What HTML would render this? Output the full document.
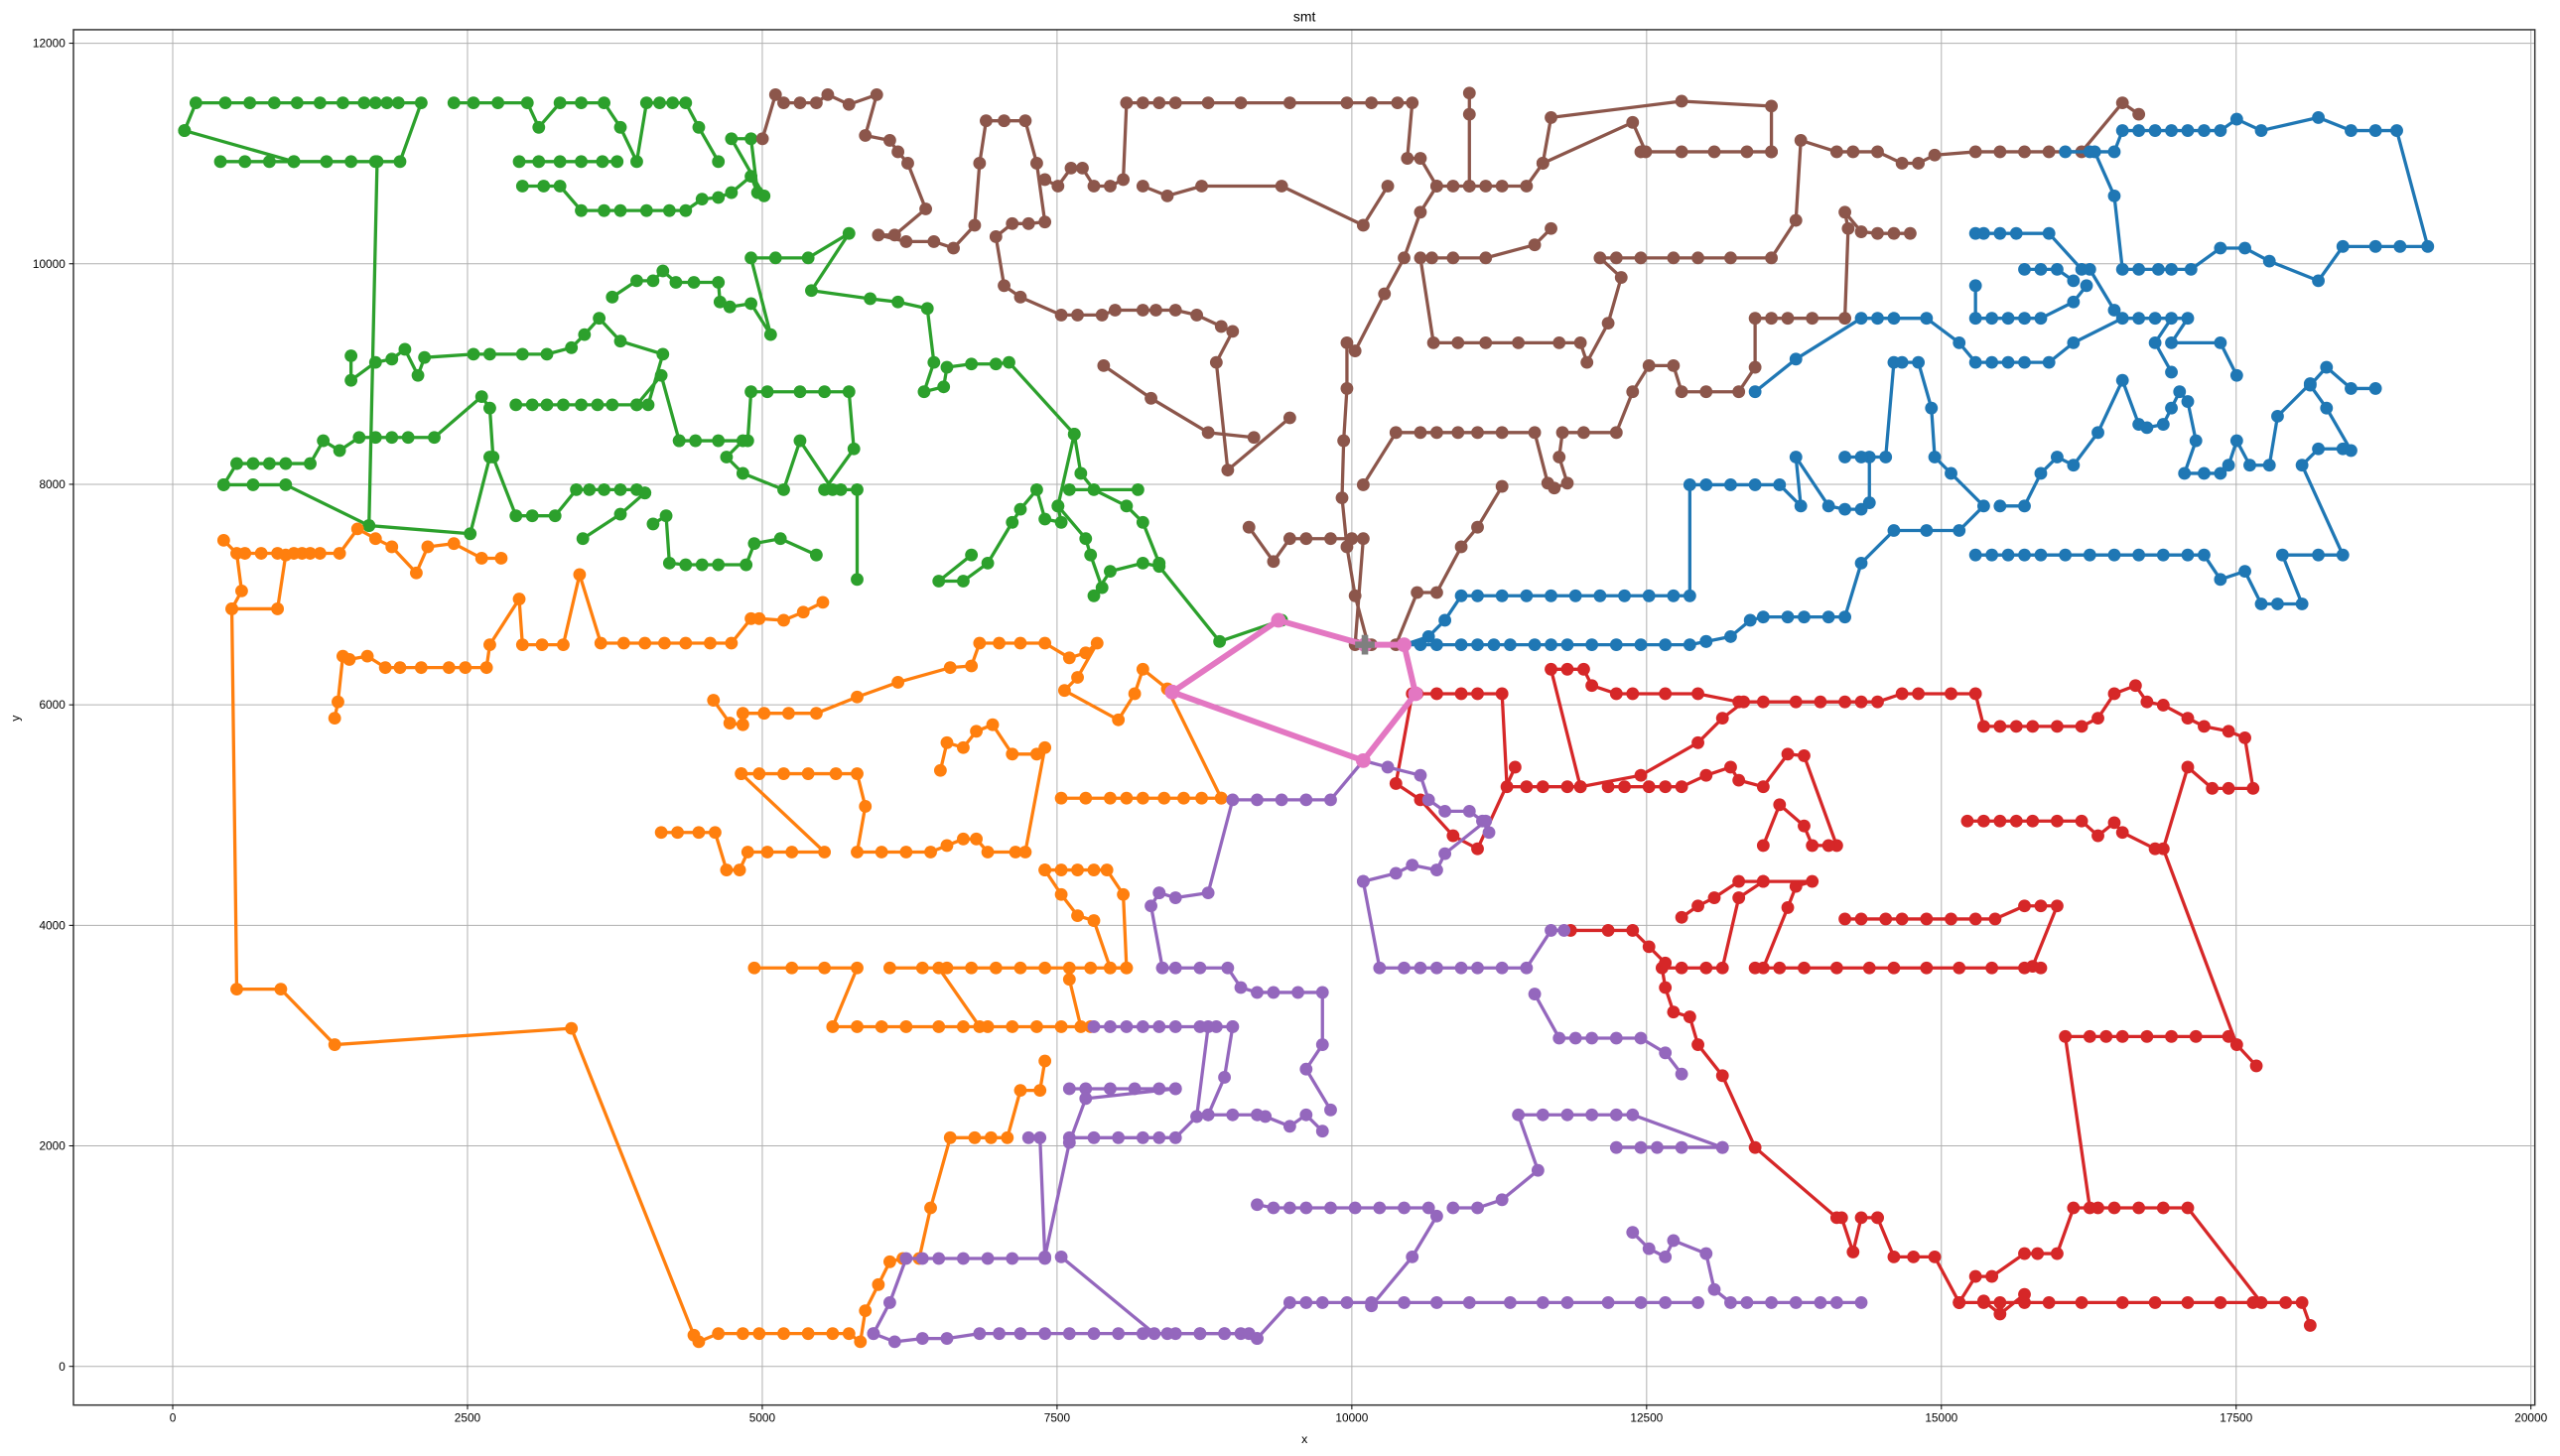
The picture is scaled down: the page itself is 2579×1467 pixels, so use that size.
<!DOCTYPE html>
<html><head><meta charset="utf-8"><style>
html,body{margin:0;padding:0;background:#fff;}
svg{display:block;}
text{font-family:"Liberation Sans",sans-serif;fill:#000;}
</style></head><body>
<svg id="s" width="2579" height="1467" viewBox="0 0 1568 892" preserveAspectRatio="none" xmlns="http://www.w3.org/2000/svg">
<rect x="0" y="0" width="1568" height="892" fill="#fff"/>
<g id="grid" stroke="#b0b0b0" stroke-width="0.6"></g>
<g id="data" stroke-linejoin="round" stroke-linecap="round"></g>
<rect x="45" y="18.2" width="1507.6" height="842.6" fill="none" stroke="#333" stroke-width="0.9"/>
<g id="ticks" font-size="7.2"></g>
<text x="799" y="13" font-size="8.5" text-anchor="middle">smt</text>
<text x="799" y="884" font-size="7.5" text-anchor="middle">x</text>
<text x="12" y="440" font-size="7.5" text-anchor="middle" transform="rotate(-90 12 440)">y</text>
</svg>
<script>
var NS="http://www.w3.org/2000/svg";
function el(t,a,p){var e=document.createElementNS(NS,t);for(var k in a)e.setAttribute(k,a[k]);p.appendChild(e);return e;}
var grid=document.getElementById('grid'),ticks=document.getElementById('ticks'),data=document.getElementById('data');
for(var i=0;i<=8;i++){var x=105.8+i*180.55;el('line',{x1:x,y1:18.2,x2:x,y2:860.8},grid);el('line',{x1:x,y1:860.8,x2:x,y2:863.5,stroke:'#000','stroke-width':0.6},ticks);var t=el('text',{x:x,y:871,'text-anchor':'middle'},ticks);t.textContent=String(i*2500);}
for(var j=0;j<=6;j++){var y=837.1-j*135.1;el('line',{x1:45,y1:y,x2:1552.6,y2:y},grid);el('line',{x1:42.3,y1:y,x2:45,y2:y,stroke:'#000','stroke-width':0.6},ticks);var t2=el('text',{x:40,y:y+2.5,'text-anchor':'end'},ticks);t2.textContent=String(j*2000);}
var S={
'#2ca02c':[
"113,80 120,63 138,63 153,63 168,63 182,63 196,63 210,63 223,63 230,63 237,63 244,63 258,63 245,99 230,99 215,99 200,99 180,99 113,80",
"180,99 165,99 150,99 135,99",
"231,99 226,322 288,327 300,280",
"278,63 290,63 305,63 323,63 330,78 343,63 356,63 370,63 380,78 390,99 396,63 404,63 412,63 420,63 428,78 440,99",
"318,99 330,99 343,99 356,99 369,99 378,99",
"320,114 333,114 343,114 356,129 370,129 380,129 396,129 410,129 420,129 430,122 440,121 448,118 460,108 464,118 460,85 448,85 468,120",
"375,182 390,172 400,172 406,166 414,173 425,173 440,173 441,185 447,188 460,186 472,205 460,158 475,158 495,158 520,143 497,178 533,183 550,185 568,189 572,222 566,240 578,237 580,225 595,223 610,223 618,222 658,266 648,310",
"215,218 215,233 230,222 240,220 248,214 256,230 260,219 290,217 300,217 320,217 335,217 350,213 358,205 367,195 380,209 406,217 397,248 390,248",
"316,248 326,248 335,248 345,248 356,248 366,248 375,248 390,248 405,230 416,270",
"137,297 145,284 155,284 165,284 175,284 190,284 198,270 208,276 220,268 230,268 240,268 250,268 266,268 295,243 300,250 302,280 316,316 326,316 340,316 353,300 361,300 370,300 380,300 390,300 395,302",
"137,297 155,297 175,297 226,322",
"357,330 380,315 395,302",
"400,321 408,316 410,345 420,346 430,346 440,346 457,346 462,333 478,330 500,340",
"416,270 426,270 440,270 458,270 460,240 470,240 490,240 505,240 520,240 523,275 505,300 515,300 525,300 525,355",
"455,270 445,280 455,290 480,300 490,270 510,300",
"595,340 575,356 590,356 605,345 620,320 625,312 635,300 640,318 650,320 648,310 665,330 668,340 675,360 670,365 680,350 700,345 710,347 747,393 785,380",
"658,266 662,290 670,300 690,310 700,320 710,345",
"655,300 697,300"],
'#ff7f0e':[
"137,331 145,339 148,362 142,373 170,373 175,340 185,339 196,339 208,339 219,324 230,330 240,335 255,351 262,335 278,333 295,342 307,342",
"150,339 160,339 170,339 180,339 190,339",
"142,373 145,606 172,606 205,640 350,630 425,818 428,822 440,817 455,817 465,817 480,817 495,817 510,817 520,817 527,822 530,803 538,787 545,773 553,771 563,771 570,740 582,697 597,697 607,697 617,697 625,668 637,668 640,650",
"205,440 207,430 210,402 214,404 225,402 236,409 245,409 258,409 275,409 285,409 298,409 300,395 318,367 320,395 332,395 345,395 355,352 368,394 382,394 395,394 407,394 420,394 435,394 448,394 460,379 465,379 480,380 492,375 504,369",
"437,429 447,443 455,444 455,437 468,437 483,437 500,437 525,427 550,418 582,409 595,408 600,394 612,394 625,394 640,394 655,403 665,400 672,394 660,415 652,423 685,441 695,425 700,410 715,422 748,489",
"454,474 465,474 480,474 495,474 512,474 525,474 530,494 525,522 540,522 555,522 570,522 580,518 590,514 598,514 605,522 622,522 628,522 640,458 635,462 620,462 608,444 598,448 590,458 580,455 576,472",
"650,489 665,489 680,489 690,489 700,489 713,489 725,489 736,489 748,489",
"405,510 415,510 428,510 438,510 445,533 453,533 458,522 470,522 485,522 505,522 454,474",
"640,533 650,533 660,533 670,533 678,533 688,548 690,593 680,593 670,564 660,561 650,548 640,533",
"462,593 485,593 505,593 525,593 510,629 525,629 540,629 555,629 575,629 590,629 605,629 620,629 635,629 650,629 668,629",
"545,593 565,593 580,593 595,593 610,593 625,593 640,593 655,593 668,593 680,593 690,593",
"575,593 600,629",
"662,629 655,600"],
'#8c564b':[
"467,85 475,58 480,63 490,63 500,63 507,58 520,64 537,58 530,83 545,86 550,93 556,100 567,128 548,144 538,144 555,148 572,148 584,152 597,138 600,100 604,74 615,74 628,74 635,100 640,136 630,137 620,137 610,145 615,175 625,182 650,193 660,193 675,193 683,190 700,190 708,190 720,190 733,193 748,200 755,203 745,222 752,288 790,256",
"640,110 648,114 656,103 663,103 670,114 680,114 688,110 690,63 700,63 710,63 720,63 740,63 760,63 790,63 825,63 840,63 856,63 865,63 862,97 870,97 880,114 890,114 900,114 910,114 920,114 935,114 945,100 950,72 1030,62 1085,65 1085,93",
"700,114 715,120 736,114 785,114 835,138 850,114",
"900,114 900,70 900,57",
"676,224 705,244 740,265 768,268",
"765,323 780,344 790,330 800,330 815,330 828,330 835,330 830,395",
"838,395 830,365 825,335 822,305 823,270 825,238 825,210 830,215 848,180 860,158 870,130 880,114",
"835,297 855,265 870,265 880,265 893,265 905,265 920,265 940,265 948,296 952,299 960,296 955,280 957,265 970,265 990,265 1000,240 1010,224 1025,224 1030,240 1045,240 1065,240 1075,225 1075,195 1085,195 1095,195 1110,195 1130,195 1132,140 1130,130 1140,142 1150,143 1160,143 1170,143",
"870,158 878,210 893,210 910,210 930,210 955,210 968,210 972,222 985,198 993,170 980,158 990,158 1005,158 1025,158 1040,158 1060,158 1085,158 1100,135 1103,86 1125,93 1135,93 1150,93 1165,100 1175,100 1185,95 1210,93 1225,93 1240,93 1255,93 1275,93 1300,63 1310,70",
"877,158 890,158 910,158 940,150 950,140",
"1005,93 1030,93 1050,93 1070,93 1085,93",
"945,100 1000,75 1008,93",
"840,395 855,395 868,363 880,363 895,335 905,323 920,298"],
'#1f77b4':[
"860,395 875,390 885,380 895,365 905,365 920,365 935,365 950,365 965,365 980,365 995,365 1010,365 1025,365 1035,365 1035,297 1045,297 1060,297 1075,297 1090,297 1103,310 1100,280 1120,310 1130,312 1140,312 1145,308 1145,280 1130,280 1140,280 1155,280 1160,222 1165,222 1175,222 1183,250 1185,280 1195,290 1215,310 1200,325 1180,325 1160,325 1140,345 1130,378 1120,378 1105,378 1095,378 1080,378 1072,380 1060,390 1045,393",
"860,395 870,395 880,395 895,395 905,395 915,395 925,395 940,395 950,395 960,395 975,395 990,395 1005,395 1020,395 1035,395 1045,393",
"1075,240 1100,220 1140,195 1150,195 1160,195 1180,195 1200,210 1210,222 1220,222 1230,222 1240,222 1255,222 1270,210 1300,195 1310,195 1320,195 1340,195 1330,210 1360,210 1370,230",
"1210,143 1215,143 1225,143 1235,143 1255,143 1275,165 1280,165 1295,190",
"1210,175 1210,195 1220,195 1230,195 1240,195 1250,195 1270,185 1278,175",
"1240,165 1250,165 1260,165 1270,172",
"1265,93 1280,93 1295,93 1300,80 1310,80 1320,80 1330,80 1340,80 1350,80 1360,80 1370,73 1385,80 1420,72 1440,80 1455,80 1468,80 1487,151 1470,151 1455,151 1435,151 1420,172 1390,160 1375,152 1360,152 1342,165 1330,165 1322,165 1310,165 1300,165 1295,120 1283,93",
"1210,340 1220,340 1230,340 1240,340 1250,340 1265,340 1280,340 1295,340 1310,340 1325,340 1340,340 1350,340 1360,355 1375,350 1385,370 1395,370 1410,370 1398,340 1420,340 1435,340 1410,285 1420,275 1435,275 1440,276 1425,250 1415,236 1425,225 1440,238 1455,238",
"1225,310 1240,310 1250,290 1260,280 1270,285 1285,265 1300,233 1310,260 1315,262 1325,260 1330,250 1335,240 1340,246 1345,270 1338,290 1350,290 1360,290 1365,285 1370,270 1378,285 1390,285 1395,255 1415,235",
"1330,228 1320,210 1330,195"],
'#d62728':[
"868,425 880,425 895,425 905,425 920,425 923,482 935,482 945,482 960,482 968,482 950,410 960,410 970,410 975,420 990,425 1000,425 1020,425 1040,425 1065,430 1080,430 1100,430 1115,430 1130,430 1140,430 1150,430 1165,425 1175,425 1195,425 1210,425 1215,445 1225,445 1235,445 1245,445 1260,445 1275,445 1285,440 1295,425 1308,420 1315,430 1325,432 1340,440 1350,445 1365,448 1375,452 1380,483 1365,483 1355,483 1340,470 1325,520 1370,640 1382,653",
"1205,503 1215,503 1225,503 1235,503 1245,503 1260,503 1275,503 1285,512 1295,504 1300,510 1320,520",
"985,482 995,482 1010,482 1020,482 1030,482 1045,475 1060,470 1065,478 1080,482 1095,462 1105,463 1125,518 1120,518 1110,518 1105,506 1090,493 1080,518",
"968,482 1005,475 1040,455 1055,440 1068,430",
"1130,563 1140,563 1155,563 1165,563 1180,563 1195,563 1210,563 1222,563 1240,555 1250,555 1260,555 1245,592",
"1075,593 1090,593 1105,593 1125,593 1145,593 1160,593 1180,593 1200,593 1220,593 1240,593 1250,593",
"1080,593 1095,556 1100,543 1110,540 1080,540 1065,550 1055,593 1045,593 1030,593 1018,593 1020,605 1025,620 1035,623 1040,640 1055,659 1075,703 1125,746 1128,746 1135,767 1140,746 1150,746",
"865,425 855,480 870,490 890,512 905,520 928,470",
"962,570 985,570 1000,570 1010,580 1020,590",
"1030,562 1040,555 1050,550 1065,540 1080,540",
"1365,635 1345,635 1330,635 1315,635 1300,635 1290,635 1280,635 1265,635 1280,740 1295,740 1310,740 1325,740 1340,740 1385,798 1400,798 1410,798 1415,812",
"1200,798 1215,798 1225,798 1240,798 1255,798 1275,798 1300,798 1320,798 1340,798 1360,798 1380,798",
"1200,798 1210,782 1220,782 1240,768 1248,768 1260,768 1270,740 1285,740",
"1215,797 1225,805 1240,793",
"1150,746 1160,770 1172,770 1185,770 1200,798"],
'#9467bd':[
"835,466 850,470 870,475 875,490 885,497 900,497 908,503 912,510",
"710,547 720,550 740,547 755,490 770,490 785,490 800,490 815,490 835,466",
"835,540 855,535 865,530 880,533 885,523 910,503",
"835,540 845,593 860,593 870,593 880,593 895,593 905,593 920,593 935,593 950,570 958,570",
"712,593 720,593 735,593 752,593 760,605 770,608 780,608 795,608 810,608 810,640 800,655 815,680",
"670,629 680,629 690,629 700,629 710,629 720,629 735,629 745,629 755,629",
"655,667 665,667 680,667 695,667 710,667 720,667",
"655,697 670,697 685,697 700,697 710,697 720,697 733,684",
"740,629 733,684 740,683 755,683 770,683 775,684 790,690 800,683 810,693",
"630,697 637,697 640,770 655,700 665,673 720,667",
"650,770 707,817 720,817 735,817 750,817 760,817 770,820",
"535,817 548,822 565,820 580,820 600,817 612,817 625,817 640,817 655,817 670,817 685,817 700,817 715,817 735,817 750,817 765,817",
"770,820 790,798 800,798 810,798 825,798 840,798 860,798 880,798 900,798 925,798 945,798 960,798 985,798 1005,798 1020,798 1040,798",
"535,817 545,798 555,771 565,771 575,771 590,771 605,771 620,771 640,771",
"770,738 780,740 790,740 800,740 815,740 830,740 845,740 860,740 875,740 880,745 865,770 840,800",
"890,740 905,740 920,735 942,717 930,683 945,683 960,683 975,683 990,683 1000,683 1055,703",
"940,609 955,636 965,636 975,636 990,636 1005,636 1020,645 1030,658",
"1000,755 1010,765 1020,770 1025,760 1045,768 1050,790 1060,798 1070,798 1085,798 1100,798 1115,798 1125,798 1140,798",
"990,703 1005,703 1015,703 1030,703 1055,703",
"712,593 705,555 710,547",
"755,629 750,660 740,683"]
};
for(var c in S){S[c].forEach(function(p){
 el('polyline',{points:p,fill:'none',stroke:c,'stroke-width':2},data);
 p.split(' ').forEach(function(q){var a=q.split(',');el('circle',{cx:a[0],cy:a[1],r:3.9,fill:c},data);});
});}
var pk="718,424 783,380 836,395 860,395 867,425 835,466 718,424";
el('polyline',{points:pk,fill:'none',stroke:'#e377c2','stroke-width':3.6},data);
pk.split(' ').forEach(function(q){var a=q.split(',');el('circle',{cx:a[0],cy:a[1],r:4.5,fill:'#e377c2'},data);});
el('path',{d:'M830,395 H842 M836,389 V401',stroke:'#7f7f7f','stroke-width':4,'stroke-linecap':'butt'},data);
</script>
</body></html>
